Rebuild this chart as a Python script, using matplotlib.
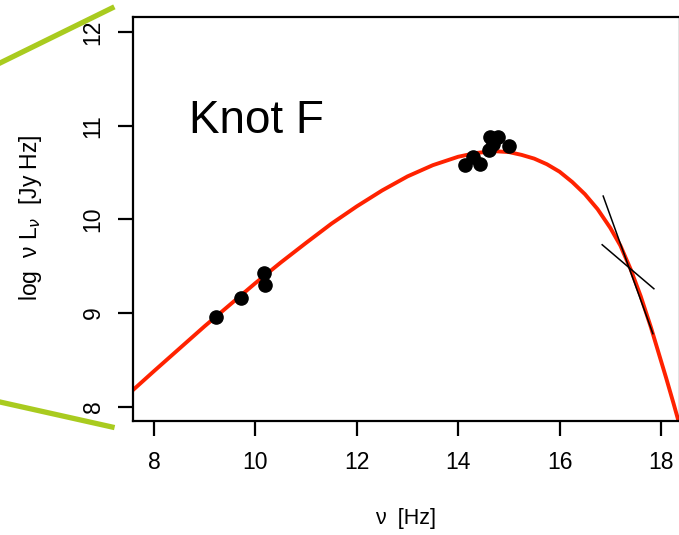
import matplotlib
matplotlib.use("Agg")
import matplotlib.pyplot as plt
from matplotlib.lines import Line2D

plt.rcParams["font.family"] = ["Liberation Sans", "DejaVu Sans"]

# observed SED of the knot (log10 frequency, log10 nu*L_nu)
radio_lognu = [9.22, 9.72, 10.17, 10.19]
radio_loglum = [8.96, 9.16, 9.43, 9.30]
optir_lognu = [14.13, 14.29, 14.43, 14.61, 14.69, 14.63, 14.79, 15.01]
optir_loglum = [10.58, 10.67, 10.59, 10.74, 10.81, 10.88, 10.88, 10.79]

# synchrotron model curve
model_lognu = [7.59, 8.0, 8.5, 9.0, 9.5, 10.0, 10.5, 11.0, 11.5, 12.0, 12.5,
               13.0, 13.5, 14.0, 14.35, 14.7, 15.0, 15.25, 15.5, 15.75, 16.0,
               16.25, 16.5, 16.75, 17.0, 17.2, 17.4, 17.6, 17.8, 17.95, 18.1,
               18.25, 18.4]
model_loglum = [8.18, 8.38, 8.62, 8.86, 9.09, 9.32, 9.54, 9.75, 9.955, 10.14,
                10.31, 10.46, 10.58, 10.67, 10.71, 10.73, 10.72, 10.69, 10.65,
                10.59, 10.51, 10.40, 10.27, 10.11, 9.91, 9.72, 9.47, 9.18, 8.85,
                8.58, 8.31, 8.03, 7.74]

# X-ray bow-tie (slope limits)
bowtie_a_x = [16.86, 17.84]
bowtie_a_y = [10.25, 8.78]
bowtie_b_x = [16.84, 17.86]
bowtie_b_y = [9.73, 9.26]

xticks = [8, 10, 12, 14, 16, 18]
yticks = [8, 9, 10, 11, 12]

W, H = 679, 535
fig = plt.figure(figsize=(W / 100, H / 100), dpi=100)
ax = fig.add_axes([133 / W, 114 / H, (680 - 133) / W, (421 - 17) / H])

ax.plot(model_lognu, model_loglum, color="#ff2200", lw=2.8,
        solid_joinstyle="round", zorder=2)
ax.plot(radio_lognu, radio_loglum, "o", color="black", ms=9.5, zorder=3)
ax.plot(optir_lognu, optir_loglum, "o", color="black", ms=9.5, zorder=3)
ax.plot(bowtie_a_x, bowtie_a_y, color="black", lw=1.1, zorder=3)
ax.plot(bowtie_b_x, bowtie_b_y, color="black", lw=1.1, zorder=3)

ax.set_xlim(7.586, 18.375)
ax.set_ylim(7.847, 12.163)
ax.set_xticks(xticks)
ax.set_yticks(yticks)
ax.set_xticklabels([str(v) for v in xticks])
ax.set_yticklabels([str(v) for v in yticks], rotation=90, va="center")

for side in ("left", "bottom", "top", "right"):
    ax.spines[side].set_linewidth(1.6)
ax.tick_params(axis="x", direction="out", length=10.5, width=1.6,
               labelsize=16.5, pad=11)
ax.tick_params(axis="y", direction="out", length=10.5, width=1.6,
               labelsize=16.5, pad=10)

ax.set_xlabel("ν  [Hz]", fontsize=15.5)
ax.xaxis.set_label_coords((406 - 133) / 547, (421 - 508) / 404)
ax.set_ylabel("log  ν L$_{\\nu}$  [Jy Hz]", fontsize=16.5)
ax.yaxis.set_label_coords((44 - 133) / 547, (421 - 218) / 404)

ax.text(8.70, 10.92, "Knot F", fontsize=33, ha="left", va="baseline")

# connector lines to the parent panel
fig.add_artist(Line2D([0 / W, 112 / W], [1 - 63 / H, 1 - 8 / H],
                      color="#a9cb1f", lw=3.8, transform=fig.transFigure))
fig.add_artist(Line2D([0 / W, 112 / W], [1 - 402 / H, 1 - 427 / H],
                      color="#a9cb1f", lw=3.8, transform=fig.transFigure))

fig.savefig("out.png", dpi=100)
